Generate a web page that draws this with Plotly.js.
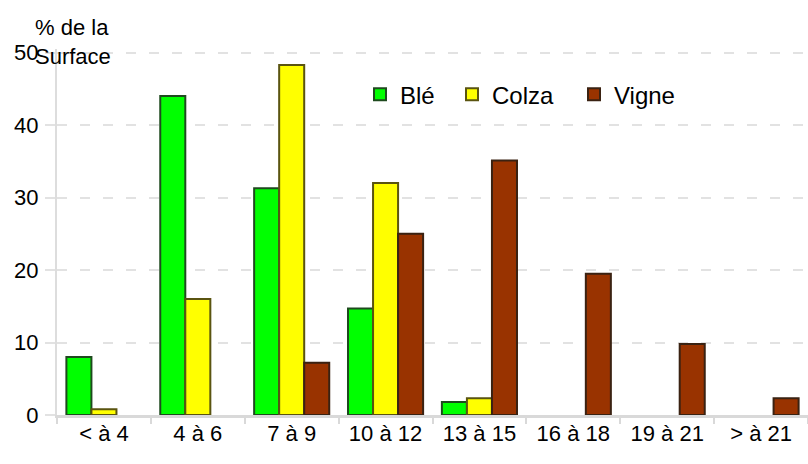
<!DOCTYPE html>
<html>
<head>
<meta charset="utf-8">
<script src="https://cdn.plot.ly/plotly-3.0.1.min.js"></script>
<style>html,body{margin:0;padding:0;background:#fff;}#chart{width:808px;height:464px;}</style>
</head>
<body>
<div id="chart"></div>
<script>
const categories = ["< à 4", "4 à 6", "7 à 9", "10 à 12", "13 à 15", "16 à 18", "19 à 21", "> à 21"];
// null = no bar drawn in the reference
const ble   = [8, 44, 31.3, 14.7, 1.8, null, null, null];
const colza = [0.8, 16, 48.3, 32, 2.3, null, null, null];
const vigne = [null, null, 7.2, 25, 35.1, 19.5, 9.8, 2.3];
const yTicks = [0, 10, 20, 30, 40, 50];

const font = {family: "Liberation Sans, Arial, sans-serif", size: 22, color: "#000"};
const legFont = {family: "Liberation Sans, Arial, sans-serif", size: 24, color: "#000"};

function series(name, vals, fill, border, leg) {
  return {
    type: "bar", name: name, x: categories, y: vals, legend: leg,
    marker: {color: fill, line: {color: border, width: 2}},
    hoverinfo: "skip"
  };
}

const data = [
  series("Blé", ble, "#00ff00", "#1e4a1e", "legend"),
  series("Colza", colza, "#ffff00", "#5a5410", "legend2"),
  series("Vigne", vigne, "#993300", "#3a2212", "legend3")
];

function leg(x) {
  return {orientation: "h", x: x, xanchor: "left", y: 0.875, yanchor: "middle",
          font: legFont, bgcolor: "rgba(0,0,0,0)"};
}

const layout = {
  width: 808, height: 464,
  margin: {l: 57, r: 0, t: 49, b: 49},
  paper_bgcolor: "#fff", plot_bgcolor: "#fff",
  font: font,
  barmode: "group", bargap: 0.2, bargroupgap: 0,
  showlegend: true,
  legend: leg(0.4035),
  legend2: leg(0.526),
  legend3: leg(0.6884),
  xaxis: {
    type: "category", showgrid: false, zeroline: false,
    showline: true, linecolor: "#d9d9d9", linewidth: 3,
    ticks: "outside", tickson: "boundaries", ticklen: 6, tickwidth: 2, tickcolor: "#d9d9d9",
    ticklabelstandoff: -3, tickfont: font, fixedrange: true
  },
  yaxis: {
    range: [0, 50.5], tickvals: yTicks, ticktext: yTicks.map(String),
    showgrid: true, gridcolor: "#e2e2e2", gridwidth: 2, griddash: "10px,13px",
    zeroline: false, showline: true, linecolor: "#dddddd", linewidth: 2,
    ticks: "outside", ticklen: 10, tickwidth: 2, tickcolor: "#e2e2e2",
    ticklabelstandoff: 2, tickfont: font, fixedrange: true
  },
  annotations: [{
    xref: "paper", yref: "paper", x: 0, y: 1, xshift: -24, yshift: 36,
    xanchor: "left", yanchor: "top", align: "left", showarrow: false,
    text: "% de la<br>Surface", font: font, bgcolor: "rgba(255,255,255,0)"
  }]
};

Plotly.newPlot("chart", data, layout, {displayModeBar: false, staticPlot: true});
</script>
</body>
</html>
